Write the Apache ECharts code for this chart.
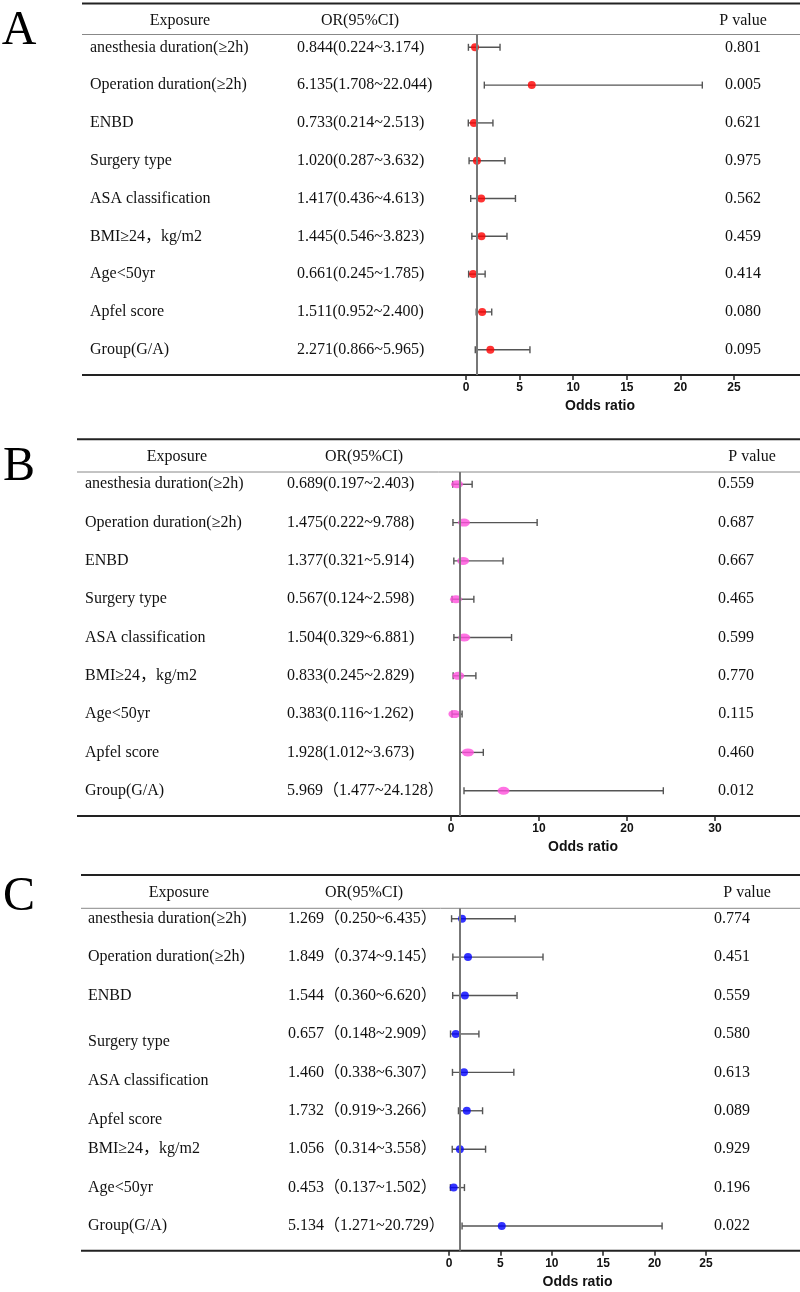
<!DOCTYPE html>
<html>
<head>
<meta charset="utf-8">
<script src="https://cdn.jsdelivr.net/npm/echarts@6/dist/echarts.min.js"></script>
<style>
  html, body { margin: 0; padding: 0; background: #fff; }
  #chart { width: 800px; height: 1292px; }
</style>
</head>
<body>
<div id="chart"></div>
<script>
// ---- data ----
const exposureA = ['anesthesia duration(≥2h)', 'Operation duration(≥2h)', 'ENBD', 'Surgery type', 'ASA classification', 'BMI≥24，kg/m2', 'Age<50yr', 'Apfel score', 'Group(G/A)'];
const orA = [0.844, 6.135, 0.733, 1.020, 1.417, 1.445, 0.661, 1.511, 2.271];
const loA = [0.224, 1.708, 0.214, 0.287, 0.436, 0.546, 0.245, 0.952, 0.866];
const hiA = [3.174, 22.044, 2.513, 3.632, 4.613, 3.823, 1.785, 2.400, 5.965];
const pA = ['0.801', '0.005', '0.621', '0.975', '0.562', '0.459', '0.414', '0.080', '0.095'];

const exposureB = ['anesthesia duration(≥2h)', 'Operation duration(≥2h)', 'ENBD', 'Surgery type', 'ASA classification', 'BMI≥24，kg/m2', 'Age<50yr', 'Apfel score', 'Group(G/A)'];
const orB = [0.689, 1.475, 1.377, 0.567, 1.504, 0.833, 0.383, 1.928, 5.969];
const loB = [0.197, 0.222, 0.321, 0.124, 0.329, 0.245, 0.116, 1.012, 1.477];
const hiB = [2.403, 9.788, 5.914, 2.598, 6.881, 2.829, 1.262, 3.673, 24.128];
const pB = ['0.559', '0.687', '0.667', '0.465', '0.599', '0.770', '0.115', '0.460', '0.012'];

const exposureC = ['anesthesia duration(≥2h)', 'Operation duration(≥2h)', 'ENBD', 'Surgery type', 'ASA classification', 'Apfel score', 'BMI≥24，kg/m2', 'Age<50yr', 'Group(G/A)'];
const orC = [1.269, 1.849, 1.544, 0.657, 1.460, 1.732, 1.056, 0.453, 5.134];
const loC = [0.250, 0.374, 0.360, 0.148, 0.338, 0.919, 0.314, 0.137, 1.271];
const hiC = [6.435, 9.145, 6.620, 2.909, 6.307, 3.266, 3.558, 1.502, 20.729];
const pC = ['0.774', '0.451', '0.559', '0.580', '0.613', '0.089', '0.929', '0.196', '0.022'];

// ---- style ----
const SERIF = '"Liberation Serif", "Noto Sans CJK SC", serif';
const SANS = '"Liberation Sans", Arial, sans-serif';

function fmtCI(or, lo, hi, wide) {
  const f = v => v.toFixed(3);
  return wide ? f(or) + '（' + f(lo) + '~' + f(hi) + '）' : f(or) + '(' + f(lo) + '~' + f(hi) + ')';
}

// panel layout (pixels)
const panels = [
  { letter: 'A', letterY: 31, ruleTop: 3.5, headY: 20.7, headLine: 34.5, axisY: 375, ruleX: 82,
    gridLeft: 466, gridW: 268, ymin: -0.339, ymax: 8.669, xmax: 25, step: 5,
    labX: 90, orX: 297, pX: 743, expHX: 180, orHX: 360, pHX: 743,
    color: '#ff0000', size: 8,
    exposure: exposureA, or: orA, lo: loA, hi: hiA, p: pA, wide: [0,0,0,0,0,0,0,0,0], dy: [0,0,0,0,0,0,0,0,0] },
  { letter: 'B', letterY: 467, ruleTop: 439.3, headY: 456.7, headLine: 472, axisY: 816, ruleX: 77,
    gridLeft: 451, gridW: 264, ymin: -0.321, ymax: 8.66, xmax: 30, step: 10,
    labX: 85, orX: 287, pX: 736, expHX: 177, orHX: 364, pHX: 752,
    color: '#ff4fdc', size: [12, 8],
    exposure: exposureB, or: orB, lo: loB, hi: hiB, p: pB, wide: [0,0,0,0,0,0,0,0,1], dy: [0,0,0,0,0,0,0,0,0] },
  { letter: 'C', letterY: 897, ruleTop: 875, headY: 892.7, headLine: 908.3, axisY: 1250.7, ruleX: 81,
    gridLeft: 449, gridW: 257, ymin: -0.271, ymax: 8.643, xmax: 25, step: 5,
    labX: 88, orX: 288, pX: 732, expHX: 179, orHX: 364, pHX: 747,
    color: '#0000ff', size: 8,
    exposure: exposureC, or: orC, lo: loC, hi: hiC, p: pC, wide: [1,1,1,1,1,1,1,1,1], dy: [0,0,0,8,8,9,0,0,0] }
];

const grid = [], xAxis = [], yAxis = [], series = [], graphic = [];

panels.forEach((pn, k) => {
  grid.push({ left: pn.gridLeft, width: pn.gridW, top: pn.headLine, height: pn.axisY - pn.headLine });
  xAxis.push({
    gridIndex: k, type: 'value', min: 0, max: pn.xmax, interval: pn.step,
    axisLine: { show: false, onZero: false },
    axisTick: { show: true, length: 5, lineStyle: { color: '#222', width: 1.5 } },
    axisLabel: { margin: 7, color: '#111', fontWeight: 'bold', fontSize: 12, fontFamily: SANS },
    splitLine: { show: false },
    name: 'Odds ratio', nameLocation: 'middle', nameGap: 24,
    nameTextStyle: { color: '#111', fontWeight: 'bold', fontSize: 14, fontFamily: SANS }
  });
  yAxis.push({ gridIndex: k, type: 'value', inverse: true, min: pn.ymin, max: pn.ymax, show: false });

  // CI whiskers
  series.push({
    type: 'custom', xAxisIndex: k, yAxisIndex: k, silent: true,
    data: pn.or.map((_, i) => [pn.lo[i], pn.hi[i], i]),
    encode: { x: [0, 1], y: 2 },
    renderItem: (params, api) => {
      const a = api.coord([api.value(0), api.value(2)]);
      const b = api.coord([api.value(1), api.value(2)]);
      const st = { stroke: '#555', lineWidth: 1.4 };
      return { type: 'group', children: [
        { type: 'line', shape: { x1: a[0], y1: a[1], x2: b[0], y2: b[1] }, style: st },
        { type: 'line', shape: { x1: a[0], y1: a[1] - 3.5, x2: a[0], y2: a[1] + 3.5 }, style: st },
        { type: 'line', shape: { x1: b[0], y1: b[1] - 3.5, x2: b[0], y2: b[1] + 3.5 }, style: st }
      ] };
    },
    z: 2
  });

  // point estimates + reference line at OR = 1
  series.push({
    type: 'scatter', xAxisIndex: k, yAxisIndex: k, silent: true,
    data: pn.or.map((v, i) => [v, i]),
    symbol: 'circle', symbolSize: pn.size,
    itemStyle: { color: pn.color },
    markLine: {
      silent: true, symbol: 'none', label: { show: false },
      lineStyle: { color: '#777', width: 2, type: 'solid' },
      data: [{ xAxis: 1 }]
    },
    z: 3
  });

  // table text columns
  series.push({
    type: 'custom', xAxisIndex: k, yAxisIndex: k, silent: true, clip: false,
    data: pn.or.map((_, i) => [0, i]),
    renderItem: (params, api) => {
      const i = params.dataIndex;
      const y = api.coord([0, i])[1];
      const font = { fontSize: 16, fontFamily: SERIF, fill: '#111', verticalAlign: 'middle' };
      return { type: 'group', children: [
        { type: 'text', style: Object.assign({ text: pn.exposure[i], x: pn.labX, y: y + pn.dy[i], align: 'left' }, font) },
        { type: 'text', style: Object.assign({ text: fmtCI(pn.or[i], pn.lo[i], pn.hi[i], pn.wide[i]), x: pn.orX, y: y, align: 'left' }, font) },
        { type: 'text', style: Object.assign({ text: pn.p[i], x: pn.pX, y: y, align: 'center' }, font) }
      ] };
    }
  });

  // rules, headers, panel letter
  graphic.push(
    { type: 'line', shape: { x1: pn.ruleX, y1: pn.ruleTop, x2: 800, y2: pn.ruleTop }, style: { stroke: '#222', lineWidth: 2 } },
    { type: 'line', shape: { x1: pn.ruleX, y1: pn.headLine, x2: 800, y2: pn.headLine }, style: { stroke: '#888', lineWidth: 1 } },
    { type: 'line', shape: { x1: pn.ruleX, y1: pn.axisY, x2: 800, y2: pn.axisY }, style: { stroke: '#222', lineWidth: 2 } },
    { type: 'text', x: pn.expHX, y: pn.headY, style: { text: 'Exposure', fontSize: 16, fontFamily: SERIF, fill: '#111', align: 'center', verticalAlign: 'middle' } },
    { type: 'text', x: pn.orHX, y: pn.headY, style: { text: 'OR(95%CI)', fontSize: 16, fontFamily: SERIF, fill: '#111', align: 'center', verticalAlign: 'middle' } },
    { type: 'text', x: pn.pHX, y: pn.headY, style: { text: 'P value', fontSize: 16, fontFamily: SERIF, fill: '#111', align: 'center', verticalAlign: 'middle' } },
    { type: 'text', x: 19, y: pn.letterY, style: { text: pn.letter, fontSize: 48, fontFamily: SERIF, fill: '#000', align: 'center', verticalAlign: 'middle' } }
  );
});

const chart = echarts.init(document.getElementById('chart'));
chart.setOption({
  animation: false,
  backgroundColor: '#fff',
  grid: grid,
  xAxis: xAxis,
  yAxis: yAxis,
  series: series,
  graphic: graphic
});
</script>
</body>
</html>
